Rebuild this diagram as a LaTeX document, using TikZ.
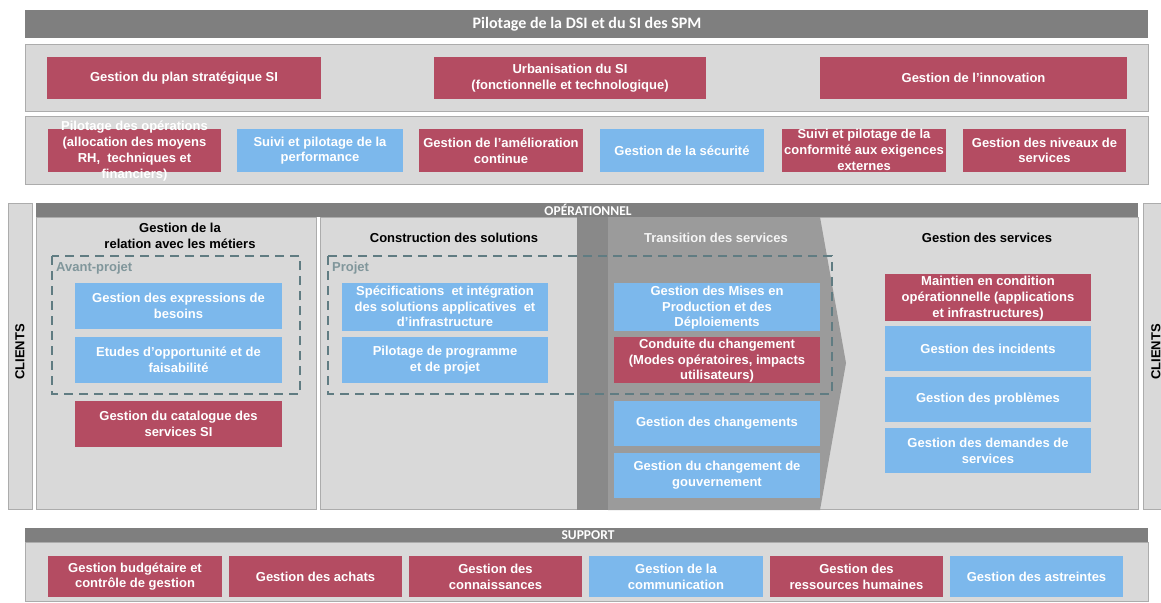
\documentclass[tikz,border=0pt]{standalone}
\usepackage{fontspec}
\setmainfont{Liberation Sans}
\newfontfamily\bandfont{Carlito}
\definecolor{SpmRed}{RGB}{180,76,98}
\definecolor{SpmBlue}{RGB}{124,184,236}
\definecolor{PanelGray}{RGB}{217,217,217}
\definecolor{PanelEdge}{RGB}{172,172,172}
\definecolor{BandGray}{RGB}{127,127,127}
\definecolor{StripGray}{RGB}{137,137,137}
\definecolor{ChevronGray}{RGB}{155,155,155}
\definecolor{DashTeal}{RGB}{96,124,130}
\newcommand{\spmfont}{\bfseries\fontsize{13}{15.7}\selectfont}
\newcommand{\spill}[1]{\smash{\raisebox{-.3em}{\begin{tabular}{@{}c@{}}#1\end{tabular}}}}
\tikzset{
  panel/.style={fill=PanelGray,draw=PanelEdge,line width=.8pt},
  band/.style={fill=BandGray},
  bandtxt/.style={text=white,font=\bandfont\bfseries\fontsize{13.5}{15}\selectfont},
  redbox/.style={fill=SpmRed,text=white,align=center,inner sep=1pt,font=\spmfont},
  bluebox/.style={redbox,fill=SpmBlue},
  coltitle/.style={align=center,font=\spmfont},
  phase/.style={draw=DashTeal,line width=1.4pt,dash pattern=on 9pt off 6pt},
  phasetxt/.style={anchor=west,inner sep=1pt,text=DashTeal!80!white,font=\spmfont},
}

\begin{document}
\begin{tikzpicture}[x=1pt,y=-1pt]
  \useasboundingbox[fill=white] (0,0) rectangle (1161,602);

  % pilotage
  \fill[band] (25,10) rectangle (1148,38);
  \node[bandtxt,font=\bandfont\bfseries\fontsize{16}{18}\selectfont] (pilotage) at (587,24) {Pilotage de la DSI et du SI des SPM};
  \draw[panel] (25,44) rectangle (1148,111);
  \node[redbox,minimum width=274,minimum height=42] (plan) at (184,78) {Gestion du plan stratégique SI};
  \node[redbox,minimum width=272,minimum height=42] (urba) at (570,78) {Urbanisation du SI\\(fonctionnelle et technologique)};
  \node[redbox,minimum width=307,minimum height=42] (innov) at (973.5,78) {Gestion de l’innovation};
  \draw[panel] (25,116) rectangle (1148,184);
  \node[redbox,minimum width=173,minimum height=43] (pilop) at (134.5,150.5) {\spill{Pilotage des opérations\\(allocation des moyens\\RH,~ techniques et\\financiers)}};
  \node[bluebox,minimum width=166,minimum height=43] (perf) at (320,150.5) {Suivi et pilotage de la\\performance};
  \node[redbox,minimum width=164,minimum height=43] (amelio) at (501,150.5) {Gestion de l’amélioration\\continue};
  \node[bluebox,minimum width=164,minimum height=43] (secu) at (682,150.5) {Gestion de la sécurité};
  \node[redbox,minimum width=164,minimum height=43] (conform) at (864,150.5) {\spill{Suivi et pilotage de la\\conformité aux exigences\\externes}};
  \node[redbox,minimum width=163,minimum height=43] (niveaux) at (1044.5,150.5) {Gestion des niveaux de\\services};

  % operationnel
  \draw[panel] (8,203) rectangle (32,509);
  \draw[panel] (1143,203) rectangle (1170,509);
  \node[rotate=90,font=\spmfont] (clientsg) at (20,352) {CLIENTS};
  \node[rotate=90,font=\spmfont] (clientsd) at (1156,352) {CLIENTS};
  \fill[band] (36,203) rectangle (1138,217);
  \node[bandtxt] (oper) at (588,210) {OPÉRATIONNEL};
  \draw[panel] (36,217) rectangle (316,509);
  \draw[panel] (320,217) rectangle (600,509);
  \draw[panel] (815,217) rectangle (1138,509);
  \fill[StripGray] (577,217) rectangle (608,510);
  \fill[ChevronGray] (608,217) -- (820,217) -- (846,363) -- (820,510) -- (608,510) -- cycle;

  \node[coltitle] (relation) at (180,236) {Gestion de la\\relation avec les métiers};
  \node[coltitle] (construction) at (454,238) {Construction des solutions};
  \node[coltitle,text=white!92!gray] (transition) at (716,238) {Transition des services};
  \node[coltitle] (services) at (987,238) {Gestion des services};

  \draw[phase] (52,256) rectangle (300,394);
  \draw[phase] (328,256) rectangle (832,394);
  \node[phasetxt] (avant) at (55,268) {Avant-projet};
  \node[phasetxt] (projet) at (331,268) {Projet};

  \node[bluebox,minimum width=207,minimum height=46] (besoins) at (178.5,306) {Gestion des expressions de\\besoins};
  \node[bluebox,minimum width=207,minimum height=46] (etudes) at (178.5,360) {Etudes d’opportunité et de\\faisabilité};
  \node[redbox,minimum width=207,minimum height=46] (catalogue) at (178.5,424) {Gestion du catalogue des\\services SI};

  \node[bluebox,minimum width=206,minimum height=48] (specs) at (445,307) {\spill{Spécifications~ et intégration\\des solutions applicatives~ et\\d’infrastructure}};
  \node[bluebox,minimum width=206,minimum height=46] (progr) at (445,360) {Pilotage de programme\\et de projet};

  \node[bluebox,minimum width=206,minimum height=48] (mep) at (717,307) {\spill{Gestion des Mises en\\Production et des\\Déploiements}};
  \node[redbox,minimum width=206,minimum height=46] (conduite) at (717,360) {\spill{Conduite du changement\\(Modes opératoires, impacts\\utilisateurs)}};
  \node[bluebox,minimum width=206,minimum height=45] (changements) at (717,423.5) {Gestion des changements};
  \node[bluebox,minimum width=206,minimum height=45] (gouv) at (717,475.5) {Gestion du changement de\\gouvernement};

  \node[redbox,minimum width=206,minimum height=47] (mco) at (988,297.5) {\spill{Maintien en condition\\opérationnelle (applications\\et infrastructures)}};
  \node[bluebox,minimum width=206,minimum height=45] (incidents) at (988,348.5) {Gestion des incidents};
  \node[bluebox,minimum width=206,minimum height=45] (problemes) at (988,399.5) {Gestion des problèmes};
  \node[bluebox,minimum width=206,minimum height=45] (demandes) at (988,450.5) {Gestion des demandes de\\services};

  % support
  \fill[band] (25,528) rectangle (1148,542);
  \node[bandtxt] (support) at (588,535) {SUPPORT};
  \draw[panel] (25,542) rectangle (1148,601);
  \node[redbox,minimum width=174,minimum height=41] (budget) at (135,576.5) {Gestion budgétaire et\\contrôle de gestion};
  \node[redbox,minimum width=173,minimum height=41] (achats) at (315.5,576.5) {Gestion des achats};
  \node[redbox,minimum width=173,minimum height=41] (connais) at (495.5,576.5) {Gestion des\\connaissances};
  \node[bluebox,minimum width=174,minimum height=41] (commu) at (676,576.5) {Gestion de la\\communication};
  \node[redbox,minimum width=173,minimum height=41] (rh) at (856.5,576.5) {Gestion des\\ressources humaines};
  \node[bluebox,minimum width=173,minimum height=41] (astreintes) at (1036.5,576.5) {Gestion des astreintes};
\end{tikzpicture}
\end{document}
